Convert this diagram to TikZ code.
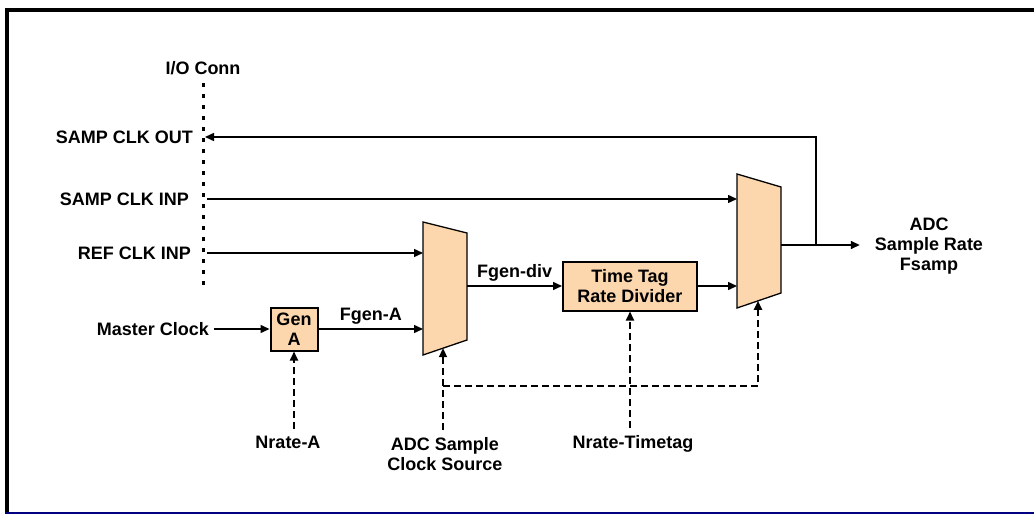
\documentclass[tikz,border=0pt]{standalone}
\usepackage{fontspec}
\setmainfont{Liberation Sans}
\usetikzlibrary{arrows.meta}
\definecolor{peach}{RGB}{252,214,172}
\definecolor{navyline}{RGB}{0,0,128}

\begin{document}
\begin{tikzpicture}[x=1pt,y=-1pt,
    every node/.style={font=\bfseries\fontsize{18}{20}\selectfont,align=center,inner sep=0pt},
    sig/.style={-{Triangle[length=9pt,width=8pt]},line width=1.5pt},
    ctl/.style={sig,line width=2pt,dash pattern=on 7pt off 4pt},
    blk/.style={draw,line width=2pt,fill=peach},
    mux/.style={draw,line width=1.3pt,fill=peach,line join=miter}]
    \useasboundingbox(0,0)rectangle(1034,514);
    \draw[line width=4pt](7,8)--(7,512);
    \draw[line width=4pt](5,10)--(1034,10);
    \draw[navyline,line width=2.5pt](5,513)--(1034,513);

    \coordinate(iot)at(203,83);\coordinate(iob)at(203,287);
    \node(io)at(203,68){I/O Conn};
    \draw[line width=3pt,dash pattern=on 4pt off 7pt](iot)--(iob);
    \coordinate(pout)at(205,137);\coordinate(pinp)at(207,199);\coordinate(pref)at(207,253);
    \node[anchor=east](out)at(193,137){SAMP CLK OUT};
    \node[anchor=east](inp)at(189,199){SAMP CLK INP};
    \node[anchor=east](ref)at(191,253){REF CLK INP};
    \node[anchor=east](mclk)at(209,329){Master Clock};

    \node[blk,minimum width=47pt,minimum height=43pt](gena)at(294,329){Gen\\A};
    \draw[mux](423,222)--(467,233)--(467,340)--(423,355)--cycle;
    \coordinate(m1a)at(423,253);\coordinate(m1b)at(423,329);
    \coordinate(m1o)at(467,286);\coordinate(m1s)at(443,348.2);
    \node[blk,minimum width=134pt,minimum height=49pt](ttag)at(630,286){Time Tag\\Rate Divider};
    \draw[mux](737,174)--(781,187)--(781,293)--(737,308)--cycle;
    \coordinate(m2a)at(737,199);\coordinate(m2b)at(737,286);
    \coordinate(m2o)at(781,245);\coordinate(m2s)at(758,300.8);
    \coordinate(tap)at(816,245);
    \node(adc)at(929,246){ADC\\Sample Rate\\Fsamp};

    \draw[sig,shorten <=5pt](mclk.east)--(gena.west);
    \draw[sig](gena.east)--node[above=4pt]{Fgen-A}(m1b);
    \draw[sig](pref)--(m1a);
    \draw[sig](pinp)--(m2a);
    \draw[sig](m1o)--node[above=4pt]{Fgen-div}(m1o-|ttag.west);
    \draw[sig](ttag.east)--(m2b);
    \draw[sig,shorten >=15pt](m2o)--(m2o-|adc.west);
    \draw[sig](tap)|-(pout);

    \node(nra)at(288,442){Nrate-A};
    \node(src)at(445,454){ADC Sample\\Clock Source};
    \node(nrt)at(633,444){Nrate-Timetag};
    \coordinate(br)at(443,386);
    \draw[ctl,shorten <=7pt](gena.south|-nra.north)--(gena.south);
    \draw[ctl,shorten <=7pt](m1s|-src.north)--(m1s);
    \draw[ctl,shorten <=7pt](ttag.south|-nrt.north)--(ttag.south);
    \draw[ctl](br)-|(m2s);
\end{tikzpicture}
\end{document}
